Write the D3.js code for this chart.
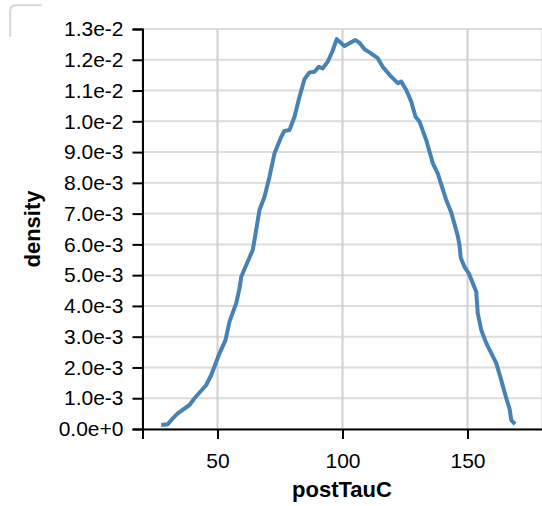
<!DOCTYPE html>
<html>
<head>
<meta charset="utf-8">
<script src="https://cdn.jsdelivr.net/npm/d3@7"></script>
<style>
  html, body { margin: 0; padding: 0; background: #fff; }
  svg { display: block; }
  text { font-family: "Liberation Sans", Arial, Helvetica, sans-serif; }
</style>
</head>
<body>
<svg id="chart" width="542" height="506"></svg>
<script>
// ---- data ----
const postTauC = [27.5, 30.1, 32.1, 34.1, 38.8, 40.8, 45.5, 47.5, 50.8, 53.2, 54.8, 57.5, 58.8, 59.5, 61.5, 64.1, 64.8, 66.8, 68.8, 70.8, 72.8, 75.5, 76.8, 78.8, 80.8, 82.8, 84.8, 86.8, 88.8, 90.5, 92.1, 94.1, 95.9, 97.7, 100.8, 102.8, 105.2, 106.8, 108.8, 110.8, 114.1, 116.1, 119.5, 122.1, 123.5, 125.5, 127.5, 129.2, 130.8, 133.5, 136.1, 138.1, 141.5, 143.5, 146.1, 146.8, 147.3, 148.8, 150.5, 153.5, 154.1, 155.5, 157.5, 161.5, 163.5, 165.5, 166.8, 167.5, 169.0];
const density = [0.00013, 0.000153, 0.000348, 0.00051, 0.00078, 0.000998, 0.00143, 0.001755, 0.00246, 0.00289, 0.00349, 0.00409, 0.00457, 0.00495, 0.00533, 0.00582, 0.00614, 0.00712, 0.00755, 0.0082, 0.00896, 0.0095, 0.00969, 0.00972, 0.01015, 0.0108, 0.01137, 0.01159, 0.01161, 0.01177, 0.01172, 0.01194, 0.01226, 0.01267, 0.01245, 0.01254, 0.01264, 0.01255, 0.01234, 0.01224, 0.01205, 0.01177, 0.01145, 0.01124, 0.01129, 0.01102, 0.01064, 0.01015, 0.00999, 0.00939, 0.00864, 0.00831, 0.00744, 0.00704, 0.00627, 0.00598, 0.00556, 0.00527, 0.00506, 0.00446, 0.00376, 0.00322, 0.00279, 0.00214, 0.00159, 0.001, 0.00067, 0.00029, 0.00016];
const xTickValues = [20, 50, 100, 150, 180];
const xTickLabels = ["", "50", "100", "150", ""];
const yTickValues = [0, 0.001, 0.002, 0.003, 0.004, 0.005, 0.006, 0.007, 0.008, 0.009, 0.010, 0.011, 0.012, 0.013];
const xDomain = [20, 180];
const yDomain = [0, 0.013];
const xTitle = "postTauC";
const yTitle = "density";

// ---- layout ----
const mLeft = 142.5, mTop = 29, plotW = 400, plotH = 400;
const svg = d3.select("#chart");

// decorative corner at top-left
svg.append("path")
  .attr("d", "M10.2,36.7 V11 Q10.2,5.2 16,5.2 H41.7")
  .attr("fill", "none").attr("stroke", "#d6d6d6").attr("stroke-width", 2);

const g = svg.append("g").attr("transform", `translate(${mLeft},${mTop})`);
const x = d3.scaleLinear().domain(xDomain).range([0, plotW]);
const y = d3.scaleLinear().domain(yDomain).range([plotH, 0]);

// grid
g.append("g").selectAll("line").data(yTickValues).join("line")
  .attr("x1", 0).attr("x2", plotW)
  .attr("y1", d => y(d)).attr("y2", d => y(d))
  .attr("stroke", "#ddd").attr("stroke-width", 2);
g.append("g").selectAll("line").data(xTickValues).join("line")
  .attr("y1", 0).attr("y2", plotH)
  .attr("x1", d => x(d)).attr("x2", d => x(d))
  .attr("stroke", "#d0d0d0").attr("stroke-width", 2);

// axes
const fmt = d3.format(".1e");
const yAxis = d3.axisLeft(y).tickValues(yTickValues).tickFormat(fmt).tickSize(10).tickPadding(9);
const xAxis = d3.axisBottom(x).tickValues(xTickValues)
  .tickFormat((d, i) => xTickLabels[i]).tickSize(10).tickPadding(14);

const gy = g.append("g").call(yAxis);
const gx = g.append("g").attr("transform", `translate(0,${plotH})`).call(xAxis);
[gx, gy].forEach(a => {
  a.select(".domain").attr("stroke", "#000").attr("stroke-width", 2);
  a.selectAll(".tick line").attr("stroke", "#000").attr("stroke-width", 2);
  a.selectAll(".tick text").attr("fill", "#000")
    .style("font-family", '"Liberation Sans", Arial, Helvetica, sans-serif')
    .style("font-size", "21px");
});

// line
const line = d3.line().x(d => x(d[0])).y(d => y(d[1])).curve(d3.curveLinear);
g.append("path")
  .datum(postTauC.map((v, i) => [v, density[i]]))
  .attr("fill", "none").attr("stroke", "#4682b4")
  .attr("stroke-width", 4).attr("stroke-linejoin", "round")
  .attr("d", line);

// titles
svg.append("text").attr("x", mLeft + plotW / 2 - 0.5).attr("y", 497)
  .attr("text-anchor", "middle").attr("font-weight", "bold").attr("font-size", 22)
  .attr("fill", "#000").text(xTitle);
svg.append("text").attr("transform", `translate(40,${mTop + plotH / 2}) rotate(-90)`)
  .attr("text-anchor", "middle").attr("font-weight", "bold").attr("font-size", 22)
  .attr("fill", "#000").text(yTitle);
</script>
</body>
</html>
